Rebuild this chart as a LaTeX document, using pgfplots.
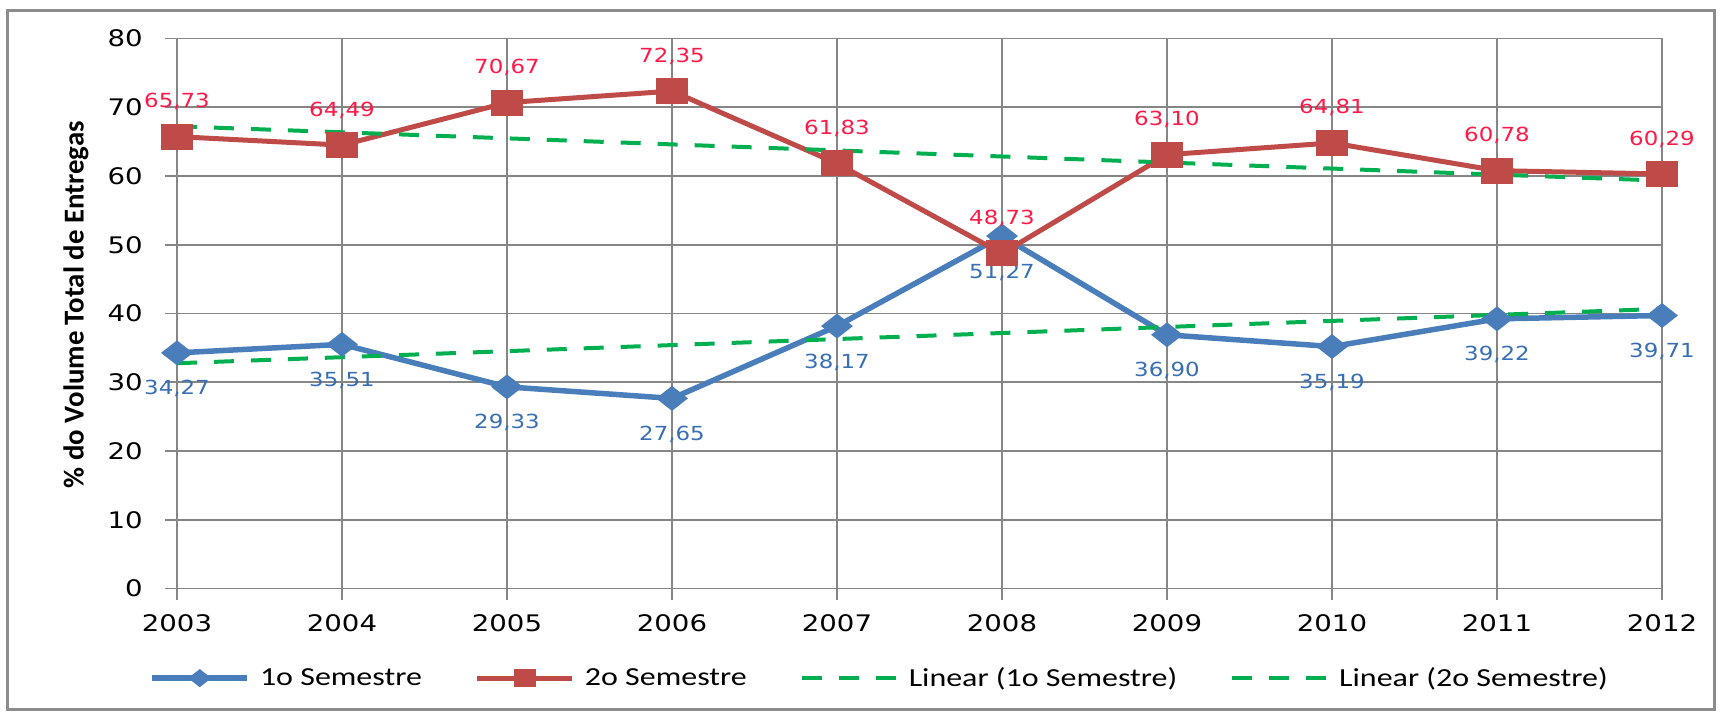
\documentclass[border=0pt]{standalone}
\usepackage{fontspec}
\setmainfont{Carlito}
\newfontfamily\tickfont[FakeStretch=1.21]{DejaVu Sans}
\newfontfamily\lblfont[FakeStretch=1.18]{DejaVu Sans}
\newfontfamily\legfont[FakeStretch=1.23]{Carlito}
\usepackage{pgfplots}
\pgfplotsset{compat=1.18}
\definecolor{blueS}{RGB}{74,126,187}
\definecolor{redS}{RGB}{190,75,72}
\definecolor{greenT}{RGB}{0,176,80}
\definecolor{blueL}{RGB}{55,110,180}
\definecolor{redL}{RGB}{255,25,70}
\definecolor{gridc}{RGB}{134,134,134}
\definecolor{framec}{RGB}{140,140,140}
\begin{document}
\begin{tikzpicture}
\path (-88.5pt,-61.75pt) rectangle (774pt,294.25pt);
\draw[framec, line width=1.5pt] (-84.5pt,-60.25pt) rectangle (768.5pt,288.75pt);
\begin{axis}[
  at={(0pt,0pt)}, anchor=south west,
  scale only axis, width=742.5pt, height=275pt,
  xmin=2003, xmax=2012, ymin=0, ymax=80,
  xtick={2003,2004,2005,2006,2007,2008,2009,2010,2011,2012},
  xticklabels={2003,2004,2005,2006,2007,2008,2009,2010,2011,2012},
  ytick={0,10,20,30,40,50,60,70,80},
  yticklabels={0,10,20,30,40,50,60,70,80},
  grid=major, major grid style={gridc, line width=0.9pt},
  axis line style={gridc, line width=0.9pt},
  tick style={gridc, line width=0.9pt},
  tick align=outside, major tick length=6pt,
  xtick pos=left, ytick pos=left,
  xticklabel style={font=\tickfont\fontsize{11.4}{13}\selectfont, anchor=north, inner sep=0pt, yshift=-7pt},
  yticklabel style={font=\tickfont\fontsize{11.4}{13}\selectfont, anchor=east, inner sep=0pt, xshift=-11pt},
  ylabel={\% do Volume Total de Entregas},
  ylabel style={font=\bfseries\fontsize{14.4}{16}\selectfont, at={(axis description cs:-0.068,0.516)}, anchor=center},
  clip=false,
  point meta=y,
  /pgf/number format/.cd, use comma, fixed, fixed zerofill, precision=2, assume math mode=true, /pgfplots/.cd,
  legend columns=4,
  legend style={at={(-0.0185,-0.163)}, anchor=west, draw=none, fill=none, inner sep=0pt, outer sep=0pt,
    font=\legfont\fontsize{13}{15}\selectfont,
    nodes={inner sep=0pt, outer sep=0pt, anchor=west},
    /tikz/every odd column/.append style={column sep=5pt},
    /tikz/every even column/.append style={column sep=26.5pt}},
  legend image code/.code={\draw[#1, every mark/.append style={scale=0.62}, mark repeat=2, mark phase=2] plot coordinates {(0pt,0pt) (23.75pt,0pt) (47.5pt,0pt)};},
]
\addplot[blueS, line width=2.75pt, mark=diamond*, mark size=4.5pt,
  mark options={xscale=1.7, solid, fill=blueS, draw=blueS},
  nodes near coords, nodes near coords style={font=\lblfont\fontsize{9.7}{11}\selectfont, text=blueL, anchor=center, yshift=-18pt}]
  coordinates {(2003,34.27) (2004,35.51) (2005,29.33) (2006,27.65) (2007,38.17) (2008,51.27) (2009,36.90) (2010,35.19) (2011,39.22) (2012,39.71)};
\addlegendentry{1o Semestre}
\addplot[redS, line width=2.5pt, mark=square*, mark size=5.25pt,
  mark options={xscale=1.33, solid, fill=redS, draw=redS},
  nodes near coords, nodes near coords style={font=\lblfont\fontsize{9.7}{11}\selectfont, text=redL, anchor=center, yshift=17.5pt}]
  coordinates {(2003,65.73) (2004,64.49) (2005,70.67) (2006,72.35) (2007,61.83) (2008,48.73) (2009,63.10) (2010,64.81) (2011,60.78) (2012,60.29)};
\addlegendentry{2o Semestre}
\addplot[greenT, line width=2pt, dash pattern=on 10pt off 8.5pt]
  coordinates {(2003,32.765) (2012,40.679)};
\addlegendentry{Linear (1o Semestre)}
\addplot[greenT, line width=2pt, dash pattern=on 10pt off 8.5pt]
  coordinates {(2003,67.235) (2012,59.321)};
\addlegendentry{Linear (2o Semestre)}
\end{axis}
\end{tikzpicture}
\end{document}
